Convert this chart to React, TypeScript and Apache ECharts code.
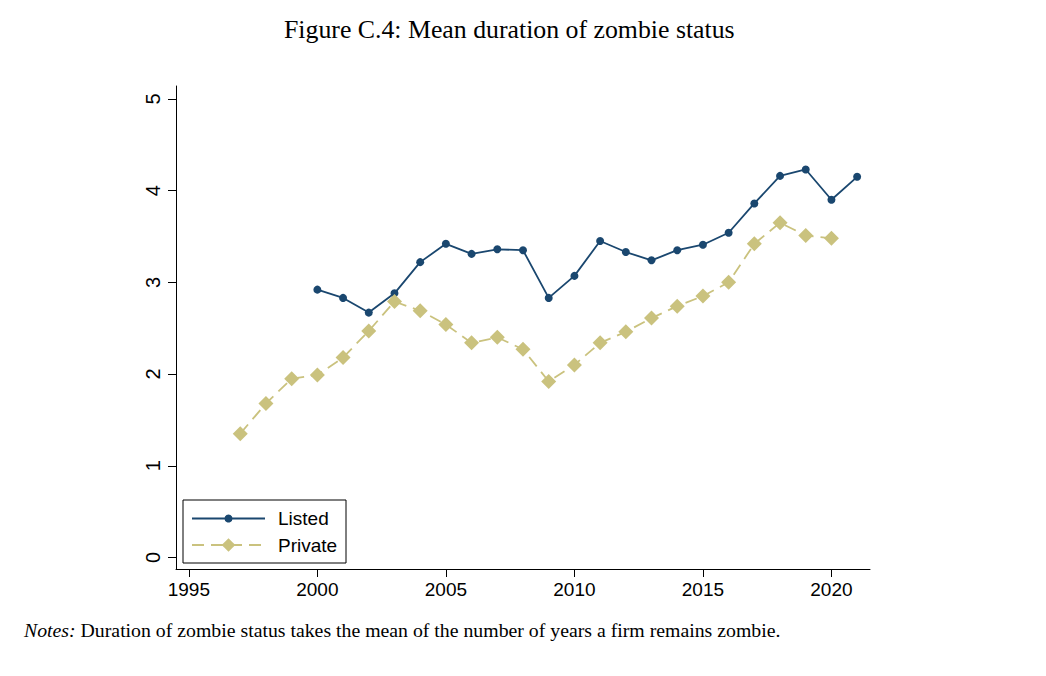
import React, { useEffect, useRef } from "react";
import * as echarts from "echarts";

const listedYears: number[] = [2000, 2001, 2002, 2003, 2004, 2005, 2006, 2007, 2008, 2009, 2010, 2011, 2012, 2013, 2014, 2015, 2016, 2017, 2018, 2019, 2020, 2021];
const listedValues: number[] = [2.92, 2.83, 2.67, 2.88, 3.22, 3.42, 3.31, 3.36, 3.35, 2.83, 3.07, 3.45, 3.33, 3.24, 3.35, 3.41, 3.54, 3.86, 4.16, 4.23, 3.9, 4.15];
const privateYears: number[] = [1997, 1998, 1999, 2000, 2001, 2002, 2003, 2004, 2005, 2006, 2007, 2008, 2009, 2010, 2011, 2012, 2013, 2014, 2015, 2016, 2017, 2018, 2019, 2020];
const privateValues: number[] = [1.35, 1.68, 1.95, 1.99, 2.18, 2.47, 2.79, 2.69, 2.54, 2.34, 2.4, 2.27, 1.92, 2.1, 2.34, 2.46, 2.61, 2.74, 2.85, 3.0, 3.42, 3.65, 3.51, 3.48];
const xTicks: number[] = [1995, 2000, 2005, 2010, 2015, 2020];
const yTicks: number[] = [0, 1, 2, 3, 4, 5];

const titleText = "Figure C.4: Mean duration of zombie status";
const notesLabel = "Notes:";
const notesText = " Duration of zombie status takes the mean of the number of years a firm remains zombie.";

const NAVY = "#1a476f";
const KHAKI = "#cac27e";

export default function App() {
  const ref = useRef<HTMLDivElement>(null);
  useEffect(() => {
    if (!ref.current) return;
    const chart = echarts.init(ref.current, undefined, { renderer: "svg" });
    const sans = "Liberation Sans";
    const serif = "Liberation Serif";
    const legendText = { fontFamily: sans, fontSize: 19, color: "#000", padding: [0, 0, 0, 8] };
    chart.setOption({
      animation: false,
      backgroundColor: "#ffffff",
      title: {
        text: titleText,
        left: 279,
        top: 11,
        textStyle: { fontFamily: serif, fontSize: 25.8, fontWeight: "normal", color: "#000" },
      },
      grid: { left: 176, right: 176, top: 86, bottom: 107, containLabel: false },
      legend: [
        {
          orient: "vertical",
          left: 191,
          top: 509,
          padding: 0,
          itemWidth: 73,
          itemHeight: 10,
          textStyle: legendText,
          data: ["Listed"],
        },
        {
          orient: "vertical",
          left: 191,
          top: 535.5,
          padding: 0,
          itemWidth: 73,
          itemHeight: 17,
          textStyle: legendText,
          data: ["Private"],
        },
      ],
      xAxis: {
        type: "value",
        min: 1994.5,
        max: 2021.5,
        splitLine: { show: false },
        axisLine: { show: true, onZero: false, lineStyle: { color: "#000", width: 1 } },
        axisTick: { show: true, length: 8, customValues: xTicks, lineStyle: { color: "#000" } },
        axisLabel: {
          customValues: xTicks,
          margin: 11,
          fontFamily: sans,
          fontSize: 19,
          color: "#000",
          formatter: (v: number) => String(v),
        },
      },
      yAxis: {
        type: "value",
        min: -0.125,
        max: 5.14,
        splitLine: { show: false },
        axisLine: { show: true, onZero: false, lineStyle: { color: "#000", width: 1 } },
        axisTick: { show: true, length: 8, customValues: yTicks, lineStyle: { color: "#000" } },
        axisLabel: {
          customValues: yTicks,
          rotate: 90,
          margin: 13,
          fontFamily: sans,
          fontSize: 20,
          color: "#000",
          formatter: (v: number) => String(v),
        },
      },
      series: [
        {
          name: "Listed",
          type: "line",
          data: listedYears.map((y, i) => [y, listedValues[i]]),
          symbol: "circle",
          symbolSize: 8,
          itemStyle: { color: NAVY },
          lineStyle: { color: NAVY, width: 1.8 },
        },
        {
          name: "Private",
          type: "line",
          data: privateYears.map((y, i) => [y, privateValues[i]]),
          symbol: "diamond",
          symbolSize: 15,
          itemStyle: { color: KHAKI },
          lineStyle: { color: KHAKI, width: 1.8, type: [12, 7] },
        },
      ],
      graphic: [
        {
          type: "rect",
          shape: { x: 183, y: 500, width: 163, height: 63 },
          style: { fill: "none", stroke: "#000", lineWidth: 1 },
          z: 10,
        },
        {
          type: "text",
          left: 24,
          top: 620,
          style: {
            text: "{i|" + notesLabel + "}" + notesText,
            fontFamily: serif,
            fontSize: 19.8,
            fill: "#000",
            rich: {
              i: { fontFamily: serif, fontStyle: "italic", fontSize: 19.8, color: "#000" },
            },
          },
        },
      ],
    });
    return () => chart.dispose();
  }, []);
  return (
    <div
      ref={ref}
      style={{ position: "fixed", left: 0, top: 0, width: 1046, height: 676 }}
    />
  );
}
